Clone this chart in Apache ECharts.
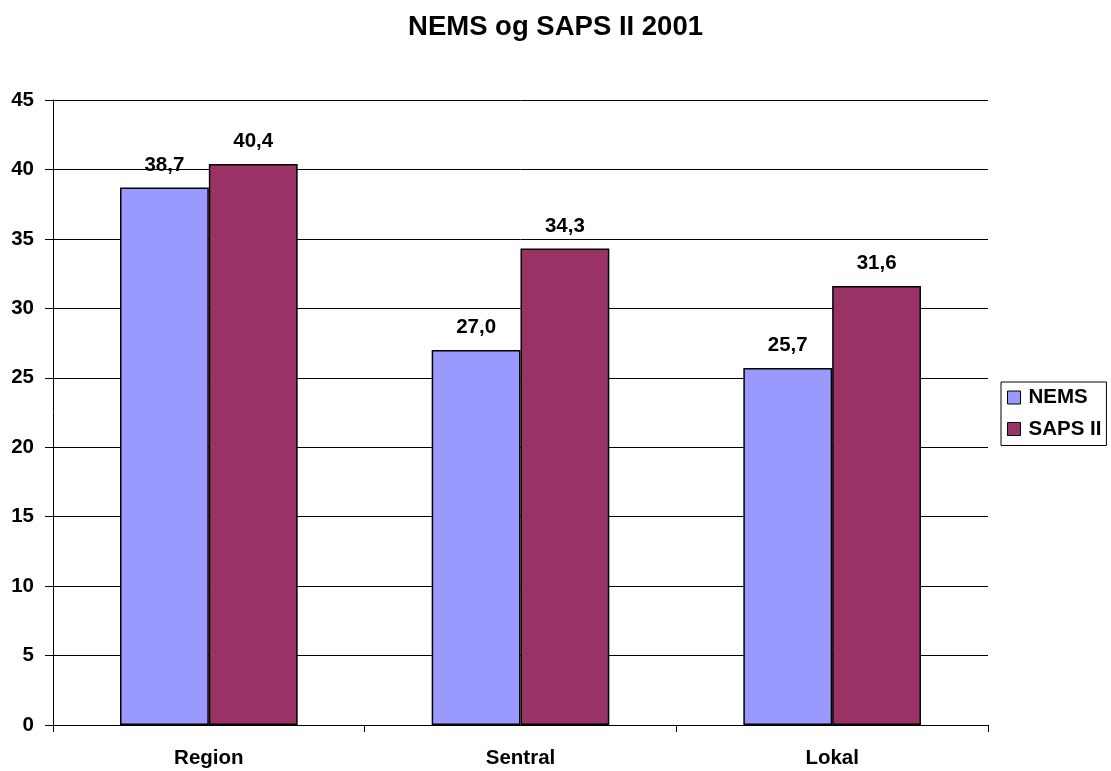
<!DOCTYPE html>
<html>
<head>
<meta charset="utf-8">
<script src="https://cdn.jsdelivr.net/npm/echarts@6/dist/echarts.min.js"></script>
<style>
html,body{margin:0;padding:0;background:#fff;}
#chart{width:1111px;height:771px;}
</style>
</head>
<body>
<div id="chart"></div>
<script>
const titleText = 'NEMS og SAPS II 2001';
const categories = ['Region', 'Sentral', 'Lokal'];
const seriesNames = ['NEMS', 'SAPS II'];
const nemsValues = [38.7, 27.0, 25.7];
const sapsValues = [40.4, 34.3, 31.6];
const yTicks = [0, 5, 10, 15, 20, 25, 30, 35, 40, 45];

const FONT = '"Liberation Sans", Arial, sans-serif';
const chart = echarts.init(document.getElementById('chart'), null, {renderer: 'canvas'});

function label() {
  return {
    show: true,
    position: 'top',
    distance: 12,
    color: '#000',
    fontFamily: FONT,
    fontWeight: 'bold',
    fontSize: 20.5,
    formatter: p => p.value.toFixed(1).replace('.', ',')
  };
}

chart.setOption({
  animation: false,
  backgroundColor: '#fff',
  title: {
    text: titleText,
    left: 'center',
    top: 13,
    padding: 0,
    textStyle: {fontFamily: FONT, fontWeight: 'bold', fontSize: 27.5, color: '#000'}
  },
  legend: {
    orient: 'vertical',
    left: 1001,
    top: 382,
    padding: [5, 5, 6, 6],
    itemGap: 10.5,
    itemWidth: 13,
    itemHeight: 13,
    borderColor: '#000',
    borderWidth: 1,
    icon: 'rect',
    data: seriesNames,
    itemStyle: {borderColor: '#000', borderWidth: 1},
    textStyle: {fontFamily: FONT, fontWeight: 'bold', fontSize: 20.5, color: '#000', padding: [0, 0, 0, 3]}
  },
  grid: {left: 53, right: 123, top: 100, bottom: 46, containLabel: false},
  xAxis: {
    type: 'category',
    data: categories,
    axisLine: {show: true, lineStyle: {color: '#000', width: 1}},
    axisTick: {show: true, length: 7, alignWithLabel: false, lineStyle: {color: '#000'}},
    axisLabel: {margin: 23, color: '#000', fontFamily: FONT, fontWeight: 'bold', fontSize: 20.5},
    splitLine: {show: false}
  },
  yAxis: {
    type: 'value',
    min: yTicks[0],
    max: yTicks[yTicks.length - 1],
    interval: yTicks[1] - yTicks[0],
    axisLine: {show: true, lineStyle: {color: '#000', width: 1}},
    axisTick: {show: true, length: 8, lineStyle: {color: '#000'}},
    axisLabel: {margin: 19, color: '#000', fontFamily: FONT, fontWeight: 'bold', fontSize: 20.5},
    splitLine: {show: true, lineStyle: {color: '#000', width: 1}}
  },
  series: [
    {
      name: seriesNames[0],
      type: 'bar',
      data: nemsValues,
      barGap: '0%',
      barCategoryGap: '43%',
      itemStyle: {color: '#9999FF', borderColor: '#000', borderWidth: 1.5},
      label: label()
    },
    {
      name: seriesNames[1],
      type: 'bar',
      data: sapsValues,
      barGap: '0%',
      barCategoryGap: '43%',
      itemStyle: {color: '#993366', borderColor: '#000', borderWidth: 1.5},
      label: label()
    }
  ]
});
</script>
</body>
</html>
